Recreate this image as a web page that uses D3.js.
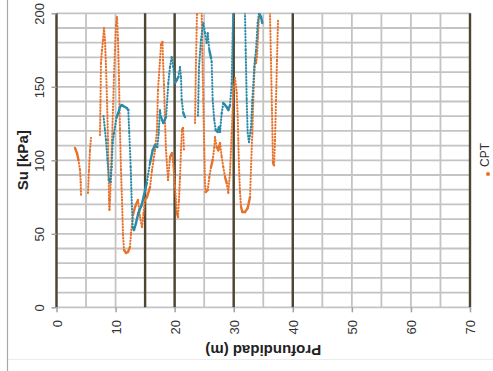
<!DOCTYPE html>
<html>
<head>
<meta charset="utf-8">
<script src="https://cdn.jsdelivr.net/npm/d3@7/dist/d3.min.js"></script>
<style>
  html, body { margin: 0; padding: 0; background: #ffffff; }
  svg { display: block; font-family: "Liberation Sans", Arial, sans-serif; }
</style>
</head>
<body>
<svg id="chart" width="493" height="371"></svg>
<script>
// Depth axis (m) and undrained shear strength axis (kPa)
const depthTicks = [0, 10, 20, 30, 40, 50, 60, 70];
const suTicks = [0, 50, 100, 150, 200];
const strataDepths = [0, 15, 20, 30, 40, 70];

// CPT profile: depth (m) / Su (kPa); null separates data runs
const cptDepth = [3.13, 3.47, 3.72, 3.98, 4.10, 4.15, null,
  5.33, 5.50, 5.67, 5.84, null,
  7.36, 7.45, 7.53, 7.70, 7.87, 8.04, 8.21, 8.38, 8.55, 8.72,
  8.84, 8.89, 8.97, 9.06, 9.23, 9.40, 9.56, 9.73, 9.90, 10.07,
  10.24, 10.41, 10.58, 10.75, 10.92, 11.09, 11.26, 11.43, 11.77, 12.10,
  12.44, 12.61, 12.95, 13.29, 13.80, 14.14, 14.47, 14.73, 14.98, 15.32,
  15.83, 16.17, 16.42, 16.68, 17.01, 17.18, 17.52, 17.69, 17.95, 18.03,
  18.20, 18.37, 18.54, 18.88, 19.22, 19.55, 19.81, 20.06, 20.40, 20.57,
  20.74, 20.91, 21.08, 21.25, 21.42, 21.58, null,
  23.45, 23.62, 23.78, 24.12, 24.58, 24.68, 24.85, 25.02, 25.14, 25.26,
  25.60, 25.87, 26.16, 26.44, 26.71, 26.83, 27.12, 27.39, 27.68, 27.97,
  28.24, 28.53, 28.81, 29.08, 29.37, 29.66, 29.93, 30.22, 30.51, 30.68,
  30.78, 30.90, 31.07, 31.24, 31.46, 31.91, 32.37, 32.76, 32.93, 33.15,
  33.32, 33.49, 33.60, 33.77, 33.94, 34.11, 34.28, 34.40, null,
  36.14, 36.31, 36.48, 36.65, 36.82, 36.99, 37.16, 37.33, 37.50];
const cptSu = [108.4, 104.9, 100.2, 93.4, 85.2, 75.0, null,
  77.8, 93.4, 107, 115.2, null,
  117.2, 141, 166.2, 175, 181.9, 190, 181.9, 163.5, 141, 113.8,
  86.6, 73, 66.2, 73, 93.4, 113.8, 134.2, 158, 175, 192,
  197.5, 181.9, 154.6, 120.6, 93.4, 73, 49.2, 39, 37, 37.6,
  41, 50.5, 62.8, 68.2, 73, 61.4, 54.6, 64.1, 73, 75,
  81.8, 93.4, 100.2, 107, 120.6, 147.8, 168.2, 178.4, 180.5, 168.2,
  151.2, 127.4, 107, 86.6, 102.2, 104.9, 95.4, 81.8, 64.1, 61.4,
  73, 88.6, 107, 120.6, 122, 107, null,
  125.4, 168.2, 200.2, 201, 200.5, 175, 141, 107, 84.6, 78.4,
  79.8, 88.6, 95.4, 100.2, 109, 115.8, 109, 106.8, 111.6, 102.2,
  95.4, 88.6, 84.6, 77.8, 91.4, 118.6, 145.8, 156, 145.8, 129.5,
  113.8, 95.4, 77.8, 68.2, 64.8, 64.8, 67.5, 75, 95.4, 118.6,
  141, 159.4, 169.6, 166.2, 170.3, 183.9, 197.5, 200.2, null,
  200.2, 168.2, 134.2, 98.2, 96.6, 113.6, 140.8, 168, 195.4];

// Second profile: depth (m) / Su (kPa)
const serie2Depth = [7.96, 8.21, 8.38, 8.63, 8.89, 9.14, 9.34, 9.51, 9.73, 9.90,
  10.19, 10.46, 10.75, 11.04, 11.31, 11.88, 12.16, 12.32, 12.56, 12.73,
  12.90, 13.12, 13.46, 13.85, 14.42, 14.81, 15.27, 15.83, 16.29, 16.68,
  17.06, 17.30, 17.52, 17.69, 18.08, 18.54, 18.93, 19.21, 19.50, 19.77,
  20.06, 20.35, 20.62, 20.91, 21.08, 21.20, 21.47, 21.75, null,
  23.95, 24.12, 24.46, 24.85, 25.14, 25.43, 25.60, 25.87, 26.16, 26.27,
  26.44, 26.71, 26.95, 27.29, 27.51, 27.68, 27.97, 28.24, 28.53, 28.81,
  29.08, 29.37, 29.66, 29.83, 29.93, null,
  31.91, 32.03, 32.20, 32.37, 32.59, 32.93, 33.15, 33.49, 33.77, 34.06,
  34.28, 34.62, 34.84];
const serie2Su = [130.1, 120.6, 113.8, 100.2, 86.6, 85.2, 95.4, 111.8, 118.6, 122.6,
  129.5, 132.2, 136.3, 137.6, 136.9, 135.6, 134.2, 118.6, 95.4, 73,
  54.6, 52.6, 57.3, 64.1, 69.6, 76.4, 84.6, 98.2, 107, 110.4,
  109, 118.6, 134.2, 129.4, 125.4, 129.4, 152.6, 163.5, 170.3, 163.5,
  152.6, 154.6, 156.7, 163.5, 156, 141, 132.2, 129.4, null,
  130.4, 163.5, 181.9, 193.4, 186.6, 179.8, 186.6, 175, 169.6, 166.9,
  141, 127.4, 120.6, 119.3, 122.6, 119.3, 132.2, 139, 137.6, 136.2,
  134.2, 137.6, 152.6, 186.6, 200.2, null,
  200.2, 175, 141, 118.6, 112.4, 122.6, 141, 163.5, 175, 193.4,
  200.2, 197.5, 193.4];

const series = [
  { name: "CPT", depth: cptDepth, su: cptSu, color: "#E9722A" },
  { name: "Serie 2", depth: serie2Depth, su: serie2Su, color: "#2B8AA7" }
];

const svg = d3.select("#chart");
const x = d3.scaleLinear().domain([0, 70]).range([56.5, 470]);
const y = d3.scaleLinear().domain([0, 200]).range([307.3, 13.3]);

// frame of the chart area
svg.append("line").attr("x1", 7.5).attr("x2", 7.5).attr("y1", 0).attr("y2", 371)
  .attr("stroke", "#a8a8a8").attr("stroke-width", 1.2);
svg.append("line").attr("x1", 8).attr("x2", 493).attr("y1", 359.5).attr("y2", 359.5)
  .attr("stroke", "#ececec").attr("stroke-width", 1);

// grid
const grid = svg.append("g");
grid.selectAll("line.h").data(d3.range(0, 201, 10)).join("line")
  .attr("x1", x(0)).attr("x2", x(70))
  .attr("y1", d => y(d)).attr("y2", d => y(d))
  .attr("stroke", "#c4c4c4").attr("stroke-width", 1.8);
grid.selectAll("line.v").data(d3.range(0, 71, 5)).join("line")
  .attr("x1", d => x(d)).attr("x2", d => x(d))
  .attr("y1", y(0)).attr("y2", y(200))
  .attr("stroke", "#c4c4c4").attr("stroke-width", 1.8);
grid.selectAll("line.s").data(strataDepths).join("line")
  .attr("x1", d => x(d)).attr("x2", d => x(d))
  .attr("y1", y(0)).attr("y2", y(200))
  .attr("stroke", "#4b4732").attr("stroke-width", 2.4);

// clip to plot area
svg.append("clipPath").attr("id", "plot")
  .append("rect").attr("x", x(0)).attr("y", y(200))
  .attr("width", x(70) - x(0)).attr("height", y(0) - y(200));

// profiles: nearly vertical runs show as separate markers, the rest as a dense trace
const marks = svg.append("g").attr("clip-path", "url(#plot)");
series.forEach(s => {
  const pts = s.depth.map((d, i) => (d === null ? null : [x(d), y(s.su[i])]));
  const segs = [];
  for (let i = 1; i < pts.length; i++) {
    const a = pts[i - 1], b = pts[i];
    if (!a || !b) continue;
    const steep = Math.abs(b[1] - a[1]) > 5 * Math.abs(b[0] - a[0]);
    segs.push({ a, b, steep });
  }
  marks.append("g").selectAll("line").data(segs).join("line")
    .attr("x1", d => d.a[0]).attr("y1", d => d.a[1])
    .attr("x2", d => d.b[0]).attr("y2", d => d.b[1])
    .attr("stroke", s.color)
    .attr("stroke-width", d => d.steep ? 2.1 : 2.4)
    .attr("stroke-linecap", "round")
    .attr("stroke-dasharray", d => d.steep ? "0.6,2.4" : null);
});

// bottom axis
const xAxis = svg.append("g").attr("transform", `translate(0,${y(0)})`)
  .call(d3.axisBottom(x).tickValues(depthTicks).tickSize(5).tickSizeOuter(0));
xAxis.select(".domain").remove();
xAxis.selectAll(".tick line").attr("stroke", "#a0a0a0").attr("stroke-width", 1.5);
xAxis.selectAll(".tick text")
  .attr("x", 0).attr("y", 0).attr("dy", "0.35em")
  .attr("transform", "translate(0,12.7) rotate(-90)")
  .attr("text-anchor", "end")
  .attr("fill", "#333").style("font-size", "13px")
  .style("font-family", "'Liberation Sans', Arial, sans-serif");

// left axis
const yAxis = svg.append("g").attr("transform", `translate(${x(0)},0)`)
  .call(d3.axisLeft(y).tickValues(suTicks).tickSize(5).tickSizeOuter(0));
yAxis.select(".domain").remove();
yAxis.selectAll(".tick line").attr("stroke", "#a0a0a0").attr("stroke-width", 1.5);
yAxis.selectAll(".tick text")
  .attr("x", 0).attr("y", 0).attr("dy", 0)
  .attr("transform", "translate(-13,0) rotate(-90)")
  .attr("text-anchor", "middle")
  .attr("fill", "#333").style("font-size", "13px")
  .style("font-family", "'Liberation Sans', Arial, sans-serif");

// axis titles
svg.append("text")
  .attr("transform", `translate(28,${(y(0) + y(200)) / 2}) rotate(-90)`)
  .attr("text-anchor", "middle")
  .style("font-size", "15px").style("font-weight", "bold").attr("fill", "#222")
  .text("Su [kPa]");
svg.append("text")
  .attr("transform", `translate(${(x(0) + x(70)) / 2},345) rotate(180)`)
  .attr("text-anchor", "middle")
  .style("font-size", "15px").style("font-weight", "bold").attr("fill", "#222")
  .text("Profundidad (m)");

// legend
const legend = svg.append("g");
legend.append("circle").attr("cx", 488).attr("cy", 174).attr("r", 2)
  .attr("fill", series[0].color);
legend.append("text")
  .attr("transform", "translate(489,155) rotate(-90)")
  .attr("text-anchor", "middle")
  .style("font-size", "12px").attr("fill", "#333")
  .text(series[0].name);
</script>
</body>
</html>
